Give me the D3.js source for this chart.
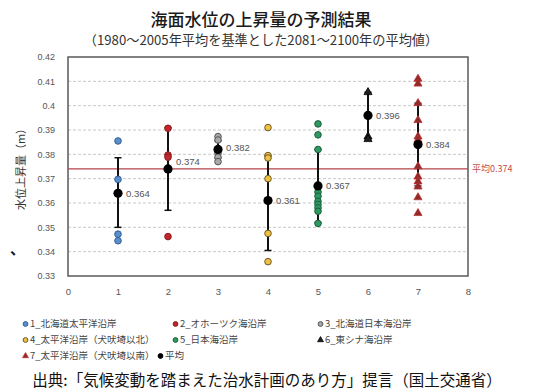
<!DOCTYPE html>
<html>
<head>
<meta charset="utf-8">
<script src="https://cdn.jsdelivr.net/npm/d3@7"></script>
<style>
  html, body { margin: 0; padding: 0; background: #fff; }
  svg { display: block; }
  text { font-family: "Liberation Sans", Arial, sans-serif; }
  .jp { font-family: "Noto Sans CJK JP", "Noto Sans", sans-serif; }
</style>
</head>
<body>
<svg id="chart" width="534" height="391"></svg>
<script>
// Coastal regions (x = 1..7)
const categories = [1, 2, 3, 4, 5, 6, 7];
const seriesNames = [
  "1_北海道太平洋沿岸", "2_オホーツク海沿岸", "3_北海道日本海沿岸",
  "4_太平洋沿岸（犬吠埼以北）", "5_日本海沿岸", "6_東シナ海沿岸",
  "7_太平洋沿岸（犬吠埼以南）"
];
// Individual model results per region (m)
const points1 = [0.3855, 0.3697, 0.3472, 0.3445];
const points2 = [0.3907, 0.3797, 0.3788, 0.3462];
const points3 = [0.3873, 0.3859, 0.3804, 0.3788, 0.3770];
const points4 = [0.3910, 0.3795, 0.3785, 0.3700, 0.3475, 0.3359];
const points5 = [0.3925, 0.3880, 0.3820, 0.3645, 0.3628, 0.3607, 0.3594, 0.3580, 0.3566, 0.3516];
const points6 = [0.4055, 0.3873, 0.3862];
const points7 = [0.4110, 0.4090, 0.4010, 0.3940, 0.3873, 0.3859, 0.3750, 0.3708, 0.3688, 0.3667, 0.3623, 0.3558];
// Regional means and spread
const means   = [0.364, 0.374, 0.382, 0.361, 0.367, 0.396, 0.384];
const errLow  = [0.350, 0.357, 0.3785, 0.3405, 0.352, 0.3865, 0.367];
const errHigh = [0.3786, 0.391, 0.3855, 0.3795, 0.382, 0.4055, 0.401];
const overallMean = 0.374;
const yTicks = [0.33, 0.34, 0.35, 0.36, 0.37, 0.38, 0.39, 0.4, 0.41, 0.42];
const xTicks = [0, 1, 2, 3, 4, 5, 6, 7, 8];

const allPoints = [points1, points2, points3, points4, points5, points6, points7];
const styles = [
  { shape: "circle",   fill: "#5b8fcc", stroke: "#2f5f96" },
  { shape: "circle",   fill: "#c0272d", stroke: "#8e1b1f" },
  { shape: "circle",   fill: "#a8a8a8", stroke: "#555555" },
  { shape: "circle",   fill: "#f0c040", stroke: "#6b5a2a" },
  { shape: "circle",   fill: "#2e9a62", stroke: "#1c5e3c" },
  { shape: "triangle", fill: "#222222", stroke: "#000000" },
  { shape: "triangle", fill: "#8b2b2b", stroke: "#c0302e" }
];

const svg = d3.select("#chart");
const plotL = 68, plotR = 468, plotT = 57, plotB = 276;
const x = d3.scaleLinear().domain([0, 8]).range([plotL, plotR]);
const y = d3.scaleLinear().domain([0.33, 0.42]).range([plotB, plotT]);

// Titles
svg.append("text").attr("class", "jp").attr("x", 261).attr("y", 26)
  .attr("text-anchor", "middle").attr("font-size", 17).attr("font-weight", 500).attr("fill", "#1a1a1a")
  .text("海面水位の上昇量の予測結果");
svg.append("text").attr("class", "jp").attr("x", 261).attr("y", 45)
  .attr("text-anchor", "middle").attr("font-size", 13.2).attr("fill", "#333")
  .text("（1980～2005年平均を基準とした2081～2100年の平均値）");

// Grid
const grid = svg.append("g");
grid.selectAll("line").data(yTicks.filter(t => t > 0.33 && t < 0.42)).join("line")
  .attr("x1", plotL).attr("x2", plotR)
  .attr("y1", d => y(d)).attr("y2", d => y(d))
  .attr("stroke", "#c8c8c8").attr("stroke-width", 1).attr("stroke-dasharray", "3,2");

// Axes (labels only, frame drawn separately)
const yAxis = svg.append("g").attr("transform", `translate(${plotL},0)`)
  .call(d3.axisLeft(y).tickValues(yTicks).tickSize(0).tickPadding(13)
    .tickFormat(d => d3.format(".2f")(d).replace(/^0\.40$/, "0.4")));
yAxis.select(".domain").remove();
yAxis.selectAll("text").attr("font-size", 9).attr("fill", "#555")
  .attr("font-family", "Liberation Sans, Arial, sans-serif");

const xAxis = svg.append("g").attr("transform", `translate(0,${plotB})`)
  .call(d3.axisBottom(x).tickValues(xTicks).tickSize(0).tickPadding(12).tickFormat(d3.format("d")));
xAxis.select(".domain").remove();
xAxis.selectAll("text").attr("font-size", 9.5).attr("fill", "#555")
  .attr("font-family", "Liberation Sans, Arial, sans-serif");

// Plot frame
svg.append("rect").attr("x", plotL).attr("y", plotT)
  .attr("width", plotR - plotL).attr("height", plotB - plotT)
  .attr("fill", "none").attr("stroke", "#5a5a5a").attr("stroke-width", 1.5);

// Overall mean line
svg.append("line").attr("x1", plotL).attr("x2", plotR)
  .attr("y1", y(overallMean)).attr("y2", y(overallMean))
  .attr("stroke", "#b5434a").attr("stroke-width", 1.2);
svg.append("text").attr("class", "jp").attr("x", plotR + 4).attr("y", y(overallMean) + 3.5)
  .attr("font-size", 9).attr("fill", "#c0504d").text("平均" + overallMean);

// Error bars
const eb = svg.append("g").attr("stroke", "#111").attr("stroke-width", 2);
categories.forEach((c, i) => {
  eb.append("line").attr("x1", x(c)).attr("x2", x(c))
    .attr("y1", y(errLow[i])).attr("y2", y(errHigh[i]));
  [errLow[i], errHigh[i]].forEach(v => {
    eb.append("line").attr("x1", x(c) - 3.5).attr("x2", x(c) + 3.5)
      .attr("y1", y(v)).attr("y2", y(v)).attr("stroke-width", 1.5);
  });
});

// Individual points
function marker(g, st, cx, cy, r) {
  if (st.shape === "circle") {
    g.append("circle").attr("cx", cx).attr("cy", cy).attr("r", r)
      .attr("fill", st.fill).attr("stroke", st.stroke).attr("stroke-width", 1);
  } else {
    g.append("path").attr("d", d3.symbol().type(d3.symbolTriangle).size(r * r * 2.6)())
      .attr("transform", `translate(${cx},${cy})`)
      .attr("fill", st.fill).attr("stroke", st.stroke).attr("stroke-width", 0.8);
  }
}
const pts = svg.append("g");
allPoints.forEach((arr, i) => {
  arr.forEach(v => marker(pts, styles[i], x(categories[i]), y(v), 3.3));
});

// Means and value labels
const labelDy = [0, -7, -2, 0, 0, 0, 0];
categories.forEach((c, i) => {
  svg.append("circle").attr("cx", x(c)).attr("cy", y(means[i])).attr("r", 4.6).attr("fill", "#000");
  svg.append("text").attr("x", x(c) + 8).attr("y", y(means[i]) + labelDy[i] + 3.5)
    .attr("font-size", 9.5).attr("fill", "#555").text(means[i].toFixed(3));
});

// Y axis title
svg.append("text").attr("class", "jp")
  .attr("transform", `translate(25,${(plotT + plotB) / 2}) rotate(-90)`)
  .attr("text-anchor", "middle").attr("font-size", 11).attr("fill", "#333")
  .text("水位上昇量（m）");

// Legend
const legendItems = [
  { name: seriesNames[0], st: styles[0], lx: 23,  ly: 324 },
  { name: seriesNames[1], st: styles[1], lx: 173, ly: 324 },
  { name: seriesNames[2], st: styles[2], lx: 318, ly: 324 },
  { name: seriesNames[3], st: styles[3], lx: 23,  ly: 340 },
  { name: seriesNames[4], st: styles[4], lx: 173, ly: 340 },
  { name: seriesNames[5], st: styles[5], lx: 318, ly: 340 },
  { name: seriesNames[6], st: styles[6], lx: 23,  ly: 356 },
  { name: "平均", st: { shape: "circle", fill: "#000", stroke: "#000" }, lx: 158, ly: 356 }
];
const lg = svg.append("g");
legendItems.forEach(it => {
  marker(lg, it.st, it.lx + 2.5, it.ly, 2.4);
  lg.append("text").attr("class", "jp").attr("x", it.lx + 7).attr("y", it.ly + 3.3)
    .attr("font-size", 9.5).attr("fill", "#444").text(it.name);
});

// Source
svg.append("text").attr("class", "jp").attr("x", 267).attr("y", 386)
  .attr("text-anchor", "middle").attr("font-size", 15.5).attr("fill", "#111")
  .text("出典:「気候変動を踏まえた治水計画のあり方」提言（国土交通省）");

// Stray punctuation mark at left margin
svg.append("text").attr("class", "jp").attr("x", 10).attr("y", 254)
  .attr("font-size", 15).attr("font-weight", 700).attr("fill", "#111").text("、");
</script>
</body>
</html>
